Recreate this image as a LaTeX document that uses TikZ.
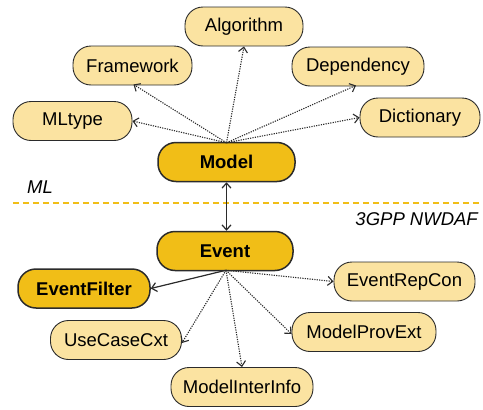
\documentclass[tikz,border=0pt]{standalone}
\usepackage{fontspec}
\setmainfont{Liberation Sans}
\usetikzlibrary{arrows.meta}
\definecolor{lightY}{HTML}{FBE3A1}
\definecolor{darkY}{HTML}{F1BE17}
\definecolor{edgeC}{HTML}{2B2B2B}
\tikzset{
  pill/.style={draw=edgeC, line width=0.9pt, rounded corners=18pt, fill=lightY,
    minimum height=39pt, inner sep=0pt, font=\fontsize{18.5}{20}\selectfont},
  pillbold/.style={pill, fill=darkY, line width=1.5pt, font=\fontsize{18.5}{20}\selectfont\bfseries},
  dotarrow/.style={-{Straight Barb[length=5pt,width=9pt]}, dash pattern=on 1.2pt off 1.2pt, line width=1.1pt, draw=edgeC},
  solidarrow/.style={-{Straight Barb[length=5pt,width=9pt]}, line width=1.2pt, draw=edgeC},
}
\begin{document}
\begin{tikzpicture}[x=1pt,y=-1pt]
\useasboundingbox (0,0) rectangle (483,410);
% ML nodes
\node[pill, minimum width=118pt] (alg) at (244,26.5) {Algorithm};
\node[pill, minimum width=119pt] (fw) at (132.5,65.5) {Framework};
\node[pill, minimum width=132pt] (dep) at (358,66.5) {Dependency};
\node[pill, minimum width=119pt] (mlt) at (72.5,121) {MLtype};
\node[pill, minimum width=120pt] (dict) at (420,117.5) {Dictionary};
\node[pillbold, minimum width=137pt] (model) at (226.5,162) {Model};
% separator
\draw[darkY, line width=1.3pt, dash pattern=on 6pt off 4pt] (13,203) -- (483,203);
\node[font=\fontsize{18.5}{20}\selectfont\itshape, anchor=base west, inner sep=0pt] (ml) at (27,193) {ML};
\node[font=\fontsize{18.5}{20}\selectfont\itshape, anchor=base east, inner sep=0pt] (ng) at (478,225) {3GPP NWDAF};
% NWDAF nodes
\node[pillbold, minimum width=136pt] (ev) at (225,251) {Event};
\node[pillbold, minimum width=132pt] (ef) at (84,288.5) {EventFilter};
\node[pill, minimum width=141pt] (erc) at (404.5,281.5) {EventRepCon};
\node[pill, minimum width=131pt] (ucc) at (116,340) {UseCaseCxt};
\node[pill, minimum width=144pt] (mpe) at (364,332) {ModelProvExt};
\node[pill, minimum width=142pt] (mii) at (242,387) {ModelInterInfo};
% connectors from Model
\coordinate (mo) at ([yshift=-1pt]model.north);
\draw[dotarrow] (mo) -- (alg.south);
\draw[dotarrow] (mo) -- ([xshift=1pt,yshift=1pt]fw.south);
\draw[dotarrow] (mo) -- (mlt.east);
\draw[dotarrow] (mo) -- ([xshift=-2pt,yshift=1pt]dep.south);
\draw[dotarrow] (mo) -- (dict.west);
% Model <-> Event
\draw[solidarrow, {Straight Barb[length=5pt,width=9pt]}-{Straight Barb[length=5pt,width=9pt]}] (model.south) -- (model.south |- ev.north);
% connectors from Event
\coordinate (eo) at ([xshift=1pt,yshift=1pt]ev.south);
\draw[solidarrow] (eo) -- (ef.east);
\draw[dotarrow] (eo) -- (erc.west);
\draw[dotarrow] (eo) -- ([yshift=-2pt]mpe.west);
\draw[dotarrow] (eo) -- (mii.north);
\draw[dotarrow] (eo) -- ([yshift=-3pt]ucc.east);
\end{tikzpicture}
\end{document}
